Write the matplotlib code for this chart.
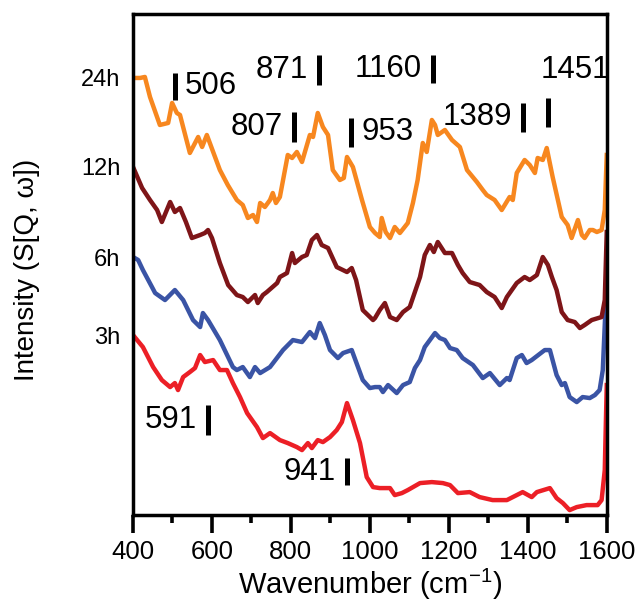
import numpy as np
import matplotlib
matplotlib.use("Agg")
import matplotlib.pyplot as plt

plt.rcParams['font.family'] = ['Liberation Sans', 'DejaVu Sans']
plt.rcParams['mathtext.fontset'] = 'custom'
plt.rcParams['mathtext.rm'] = 'Liberation Sans'

# Data (wavenumber in cm-1, stacked intensity in a.u.)
# ----------
times = ['3h', '6h', '12h', '24h']
colors = ['#EC1F26', '#3A54A5', '#7E1518', '#F7871F']

wn_3h = [400, 425, 451, 473, 494, 506, 514, 527, 544, 557, 570, 582, 603, 620,
         638, 653, 671, 689, 714, 729, 747, 772, 792, 815, 828, 843, 853, 868,
         881, 899, 916, 929, 942, 957, 975, 992, 1008, 1025, 1051, 1063, 1081,
         1096, 1127, 1157, 1185, 1203, 1223, 1253, 1278, 1311, 1347, 1362,
         1387, 1410, 1423, 1456, 1473, 1489, 1506, 1524, 1549, 1577, 1587,
         1595, 1600]
int_3h = [1.80, 1.68, 1.48, 1.35, 1.28, 1.32, 1.25, 1.38, 1.43, 1.47, 1.60,
          1.53, 1.55, 1.45, 1.45, 1.32, 1.18, 1.02, 0.88, 0.77, 0.82, 0.75,
          0.72, 0.68, 0.65, 0.72, 0.67, 0.75, 0.73, 0.78, 0.85, 0.93, 1.12,
          0.95, 0.72, 0.38, 0.28, 0.27, 0.27, 0.20, 0.22, 0.25, 0.32, 0.33,
          0.32, 0.30, 0.22, 0.23, 0.18, 0.15, 0.15, 0.18, 0.23, 0.18, 0.23,
          0.27, 0.17, 0.12, 0.05, 0.08, 0.10, 0.10, 0.15, 0.45, 1.30]

wn_6h = [400, 413, 425, 448, 456, 481, 506, 527, 552, 570, 577, 590, 620, 653,
         663, 678, 696, 709, 722, 747, 780, 805, 828, 848, 861, 873, 886, 899,
         919, 932, 954, 982, 1000, 1013, 1025, 1033, 1046, 1068, 1084, 1101,
         1114, 1127, 1139, 1152, 1165, 1177, 1190, 1203, 1220, 1235, 1261,
         1286, 1304, 1329, 1347, 1354, 1372, 1385, 1397, 1410, 1443, 1456,
         1473, 1486, 1494, 1506, 1524, 1539, 1557, 1570, 1582, 1590, 1600]
int_6h = [2.58, 2.55, 2.45, 2.28, 2.22, 2.15, 2.25, 2.15, 1.95, 1.88, 2.02,
          1.95, 1.75, 1.48, 1.45, 1.48, 1.38, 1.48, 1.42, 1.48, 1.65, 1.75,
          1.73, 1.83, 1.77, 1.92, 1.80, 1.65, 1.57, 1.62, 1.65, 1.35, 1.27,
          1.28, 1.28, 1.23, 1.30, 1.22, 1.30, 1.33, 1.47, 1.55, 1.68, 1.75,
          1.82, 1.77, 1.75, 1.67, 1.65, 1.57, 1.50, 1.37, 1.42, 1.30, 1.37,
          1.35, 1.57, 1.60, 1.52, 1.55, 1.65, 1.65, 1.40, 1.30, 1.32, 1.18,
          1.13, 1.18, 1.17, 1.20, 1.25, 1.45, 2.35]

wn_12h = [400, 423, 443, 461, 473, 494, 506, 519, 534, 549, 570, 582, 590, 600,
          620, 641, 663, 678, 691, 709, 716, 729, 739, 765, 772, 790, 803, 810,
          828, 840, 853, 866, 878, 894, 916, 942, 954, 965, 982, 995, 1008,
          1013, 1025, 1038, 1051, 1068, 1084, 1101, 1127, 1139, 1152, 1162,
          1172, 1190, 1208, 1223, 1235, 1253, 1278, 1296, 1316, 1334, 1347,
          1372, 1392, 1405, 1423, 1438, 1451, 1461, 1473, 1486, 1501, 1519,
          1532, 1544, 1562, 1587, 1595, 1600]
int_12h = [3.48, 3.27, 3.15, 3.05, 2.93, 3.13, 3.03, 3.07, 2.93, 2.77, 2.80,
           2.82, 2.85, 2.77, 2.52, 2.30, 2.20, 2.18, 2.13, 2.20, 2.12, 2.20,
           2.23, 2.32, 2.38, 2.42, 2.62, 2.52, 2.58, 2.60, 2.75, 2.80, 2.70,
           2.67, 2.48, 2.43, 2.47, 2.35, 2.05, 2.00, 1.95, 1.97, 2.05, 2.12,
           1.98, 1.95, 2.03, 2.08, 2.38, 2.60, 2.70, 2.63, 2.73, 2.62, 2.62,
           2.50, 2.42, 2.33, 2.30, 2.23, 2.18, 2.07, 2.18, 2.32, 2.38, 2.35,
           2.40, 2.58, 2.50, 2.38, 2.25, 2.03, 1.95, 1.93, 1.87, 1.90, 1.95,
           1.98, 2.15, 2.83]

wn_24h = [400, 418, 430, 443, 468, 489, 499, 511, 519, 544, 565, 575, 587, 620,
          640, 663, 678, 691, 704, 714, 722, 734, 747, 754, 762, 772, 792, 803,
          815, 828, 848, 856, 868, 881, 894, 906, 924, 934, 942, 957, 980, 1000,
          1013, 1025, 1030, 1040, 1051, 1063, 1076, 1086, 1096, 1109, 1121,
          1134, 1144, 1157, 1165, 1172, 1190, 1208, 1228, 1246, 1271, 1286,
          1296, 1316, 1334, 1354, 1362, 1372, 1392, 1405, 1418, 1425, 1438,
          1448, 1463, 1486, 1501, 1511, 1527, 1537, 1544, 1557, 1565, 1575,
          1587, 1595, 1600]
int_24h = [4.37, 4.37, 4.38, 4.18, 3.90, 3.92, 4.12, 4.02, 4.00, 3.62, 3.78,
           3.68, 3.80, 3.45, 3.30, 3.15, 3.10, 2.97, 3.00, 2.93, 3.12, 3.08,
           3.15, 3.22, 3.12, 3.18, 3.60, 3.57, 3.63, 3.53, 3.80, 3.78, 4.02,
           3.88, 3.80, 3.45, 3.35, 3.37, 3.58, 3.48, 3.15, 2.88, 2.82, 2.78,
           2.97, 2.83, 2.77, 2.88, 2.82, 2.87, 2.92, 3.12, 3.35, 3.72, 3.63,
           3.95, 3.90, 3.80, 3.85, 3.75, 3.68, 3.45, 3.33, 3.25, 3.20, 3.15,
           3.05, 3.18, 3.15, 3.42, 3.55, 3.50, 3.42, 3.57, 3.55, 3.67, 3.38,
           2.98, 2.90, 2.77, 2.95, 2.80, 2.77, 2.85, 2.85, 2.83, 2.85, 3.05,
           3.60]

peaks = [506, 591, 807, 871, 941, 953, 1160, 1389, 1451]
# ----------

spectra = [(wn_3h, int_3h), (wn_6h, int_6h), (wn_12h, int_12h), (wn_24h, int_24h)]

# where each peak marker sits: bar bottom, bar top, text side
peak_layout = {
    506:  (4.15, 4.42, 'right'),
    591:  (0.80, 1.10, 'left'),
    807:  (3.73, 4.03, 'left'),
    871:  (4.30, 4.60, 'left'),
    941:  (0.30, 0.57, 'left'),
    953:  (3.68, 3.97, 'right'),
    1160: (4.32, 4.60, 'left'),
    1389: (3.83, 4.12, 'left'),
    1451: (3.88, 4.17, 'above'),
}

fig = plt.figure(figsize=(6.38, 6.06), dpi=100, facecolor='white')
ax = fig.add_axes([0.2085, 0.150, 0.7425, 0.827])

for (wn, inten), c in zip(spectra, colors):
    ax.plot(wn, inten, color=c, lw=3.2, solid_joinstyle='round')

for p in peaks:
    y0, y1, side = peak_layout[p]
    ax.plot([p, p], [y0, y1], color='black', lw=3.6, solid_capstyle='butt')
    ym = 0.5 * (y0 + y1)
    if side == 'left':
        ax.annotate(str(p), (p, ym), xytext=(-8, 0), textcoords='offset points',
                    ha='right', va='center', fontsize=22.5)
    elif side == 'right':
        ax.annotate(str(p), (p, ym), xytext=(7, 0), textcoords='offset points',
                    ha='left', va='center', fontsize=22.5)
    else:
        ax.annotate(str(p), (p, y1), xytext=(-5, 9), textcoords='offset points',
                    ha='left', va='bottom', fontsize=22.5)

ax.set_xlim(400, 1600)
ax.set_ylim(0, 5.01)
ax.set_xticks(np.arange(400, 1601, 200))
ax.set_xticks(np.arange(500, 1600, 200), minor=True)
ax.tick_params(axis='x', which='major', direction='out', length=13, width=2.6,
               labelsize=18.5, pad=5)
ax.tick_params(axis='x', which='minor', direction='out', length=6, width=2.6)

ax.set_yticks([s[1][0] for s in spectra])
ax.set_yticklabels(times)
ax.tick_params(axis='y', length=0, labelsize=17, pad=9)

for sp in ax.spines.values():
    sp.set_linewidth(2.5)

ax.set_xlabel('Wavenumber (cm$^{-1}$)', fontsize=21, labelpad=2)
ax.set_ylabel('Intensity (S[Q, ω])', fontsize=20)
ax.yaxis.set_label_coords(-0.197, 0.49)

plt.savefig('out.png', dpi=100, facecolor='white')
